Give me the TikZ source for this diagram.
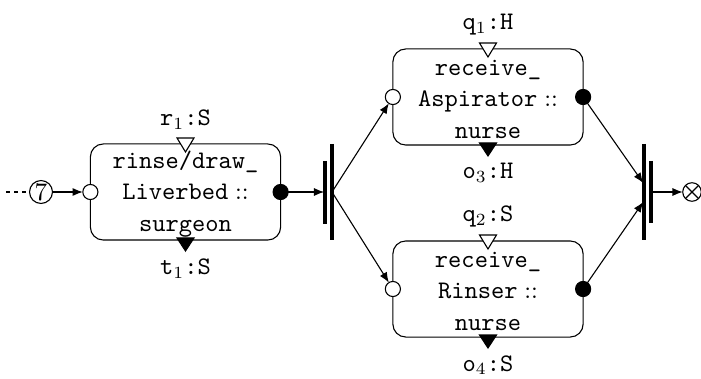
\documentclass[tikz,border=0pt]{standalone}
\usetikzlibrary{arrows.meta}
\begin{document}
\begin{tikzpicture}[x=0.41pt,y=-0.41pt,
  every node/.style={inner sep=0pt, outer sep=0pt},
  taskbox/.style={draw, line width=0.45pt, rounded corners=5.3pt,
    minimum width=78pt, minimum height=39.4pt},
  tasktext/.style={align=center, font=\fontsize{10.35}{12.9}\selectfont\ttfamily},
  lbl/.style={anchor=base, font=\fontsize{10.35}{12}\selectfont\ttfamily},
  inport/.style={circle, draw, line width=0.45pt, fill=white, minimum size=6.2pt},
  outport/.style={circle, draw, line width=0.45pt, fill=black, minimum size=6.2pt},
  trigin/.style={draw, line width=0.45pt, fill=white},
  trigout/.style={draw, line width=0.45pt, fill=black},
  flow/.style={line width=0.45pt, -{Latex[length=4.2pt,width=3.3pt]}},
  bar/.style={line width=1.3pt},
]
\useasboundingbox (0,0) rectangle (701,379);

% left task
\node[taskbox] (A) at (185.5,192) {};
\draw[trigin] (177,138) -- (194,138) -- (185.5,152) -- cycle;
\draw[trigout] (177,238) -- (194,238) -- (185.5,251) -- cycle;
\node[tasktext] (At) at (185.5,194) {rinse/draw\_\\Liverbed\hspace{2.8pt}$::$\\surgeon};
\node[inport] (Ain) at (A.west) {};
\node[outport] (Aout) at (A.east) {};
\node[lbl] (Ar) at (185.5,126) {r$_1$:S};
\node[lbl] (At1) at (185.5,275) {t$_1$:S};

% upper right task
\node[taskbox] (B) at (488,97) {};
\draw[trigin] (479.5,43) -- (496.5,43) -- (488,57) -- cycle;
\draw[trigout] (479.5,143) -- (496.5,143) -- (488,156) -- cycle;
\node[tasktext] (Bt) at (488,99) {receive\_\\Aspirator\hspace{2.8pt}$::$\\nurse};
\node[inport] (Bin) at (B.west) {};
\node[outport] (Bout) at (B.east) {};
\node[lbl] (Bq) at (488,30) {q$_1$:H};
\node[lbl] (Bo) at (488,179) {o$_3$:H};

% lower right task
\node[taskbox] (C) at (488,289) {};
\draw[trigin] (479.5,235) -- (496.5,235) -- (488,249) -- cycle;
\draw[trigout] (479.5,335) -- (496.5,335) -- (488,348) -- cycle;
\node[tasktext] (Ct) at (488,291) {receive\_\\Rinser\hspace{2.8pt}$::$\\nurse};
\node[inport] (Cin) at (C.west) {};
\node[outport] (Cout) at (C.east) {};
\node[lbl] (Cq) at (488,222) {q$_2$:S};
\node[lbl] (Co) at (488,371) {o$_4$:S};

% entry
\coordinate (src) at (6,192);
\node[circle, draw, line width=0.45pt, minimum size=9.4pt,
  font=\fontsize{10.35}{12}\selectfont] (seven) at (41,192) {7};
\draw[line width=0.45pt, dash pattern=on 1.5pt off 1.8pt] (src) -- (seven);
\draw[flow] (seven) -- (Ain);

% fork
\draw[bar] (325,161) -- (325,224);
\draw[bar] (332,144) -- (332,240);
\coordinate (forkin) at (324.2,192);
\coordinate (forkout) at (332,192);
\draw[flow] (Aout) -- (forkin);
\draw[flow] (forkout) -- (Bin);
\draw[flow] (forkout) -- (Cin);

% join
\draw[bar] (644,144) -- (644,240);
\draw[bar] (651,161) -- (651,223);
\coordinate (jin1) at (643.2,183);
\coordinate (jin2) at (643.2,202);
\coordinate (jout) at (651,192);
\draw[flow] (Bout) -- (jin1);
\draw[flow] (Cout) -- (jin2);

% final node
\node[circle, draw, line width=0.45pt, minimum size=7.6pt] (fin) at (692,192) {};
\draw[line width=0.45pt] (fin.north west) -- (fin.south east)
  (fin.north east) -- (fin.south west);
\draw[flow] (jout) -- (fin);
\end{tikzpicture}
\end{document}
